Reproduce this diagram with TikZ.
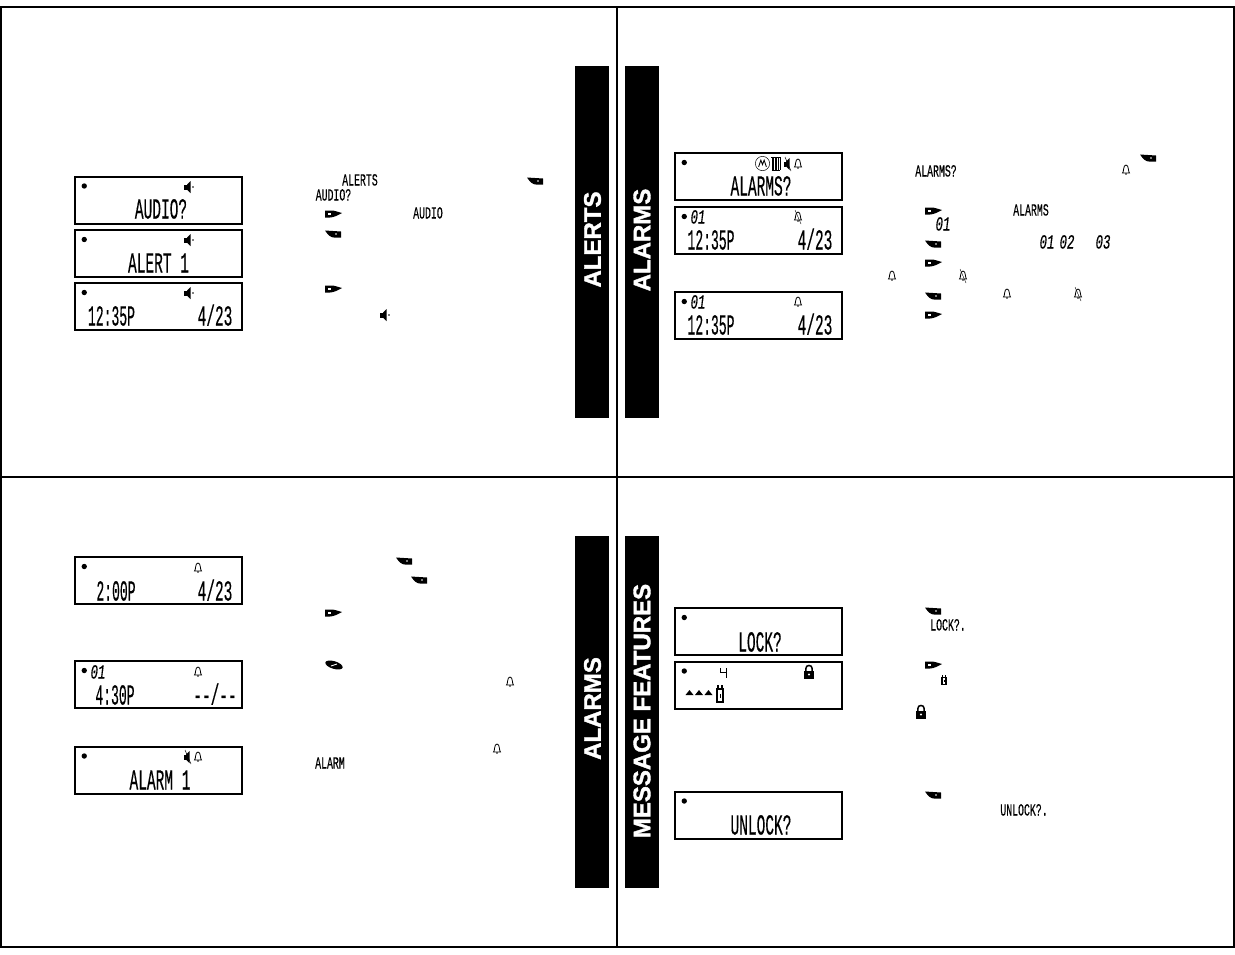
\documentclass[tikz,border=0pt]{standalone}
\usepackage{fontspec}
\newfontfamily\lcdfont[FakeBold=0.5]{Liberation Mono}
\newfontfamily\barfont[FakeBold=1.6]{Liberation Sans Bold}
\usepackage{tikz}
\tikzset{
  lcdbox/.style={draw=black, line width=2pt, minimum width=167.5pt, minimum height=47pt, inner sep=0pt},
  lcdbig/.style={font=\lcdfont\fontsize{29}{29}\selectfont, inner sep=0pt, text height=19pt, text depth=0pt, xscale=0.5, transform shape},
  lcdtime/.style={lcdbig, xscale=0.9},
  lcdsmall/.style={font=\lcdfont\fontsize{17}{17}\selectfont, inner sep=0pt, text height=11pt, text depth=0pt, xscale=0.58, transform shape},
  lcdnum/.style={font=\lcdfont\itshape\fontsize{20}{20}\selectfont, inner sep=0pt, text height=13pt, text depth=0pt, xscale=0.62, transform shape},
  tabbar/.style={fill=black, minimum width=34pt, minimum height=352pt, inner sep=0pt},
  tablabel/.style={font=\barfont\fontsize{24}{24}\selectfont, text=white, rotate=90, inner sep=0pt},
  % soft keys
  leftkey/.pic={
    \fill[black] (-8,-3.5) -- (8,-2.5) -- (8,3.5) -- (1,3.5) .. controls (-2,3.7) and (-5,1) .. (-8,-3.5);
    \fill[white] (3,0) circle (0.9);
  },
  rightkey/.pic={
    \fill[black] (-8,-3.5) -- (-2,-3.5) .. controls (2,-3.5) and (5,-2) .. (9,-1) .. controls (5,1) and (1,3.5) .. (-3,3.5) -- (-8,3.5) -- cycle;
    \fill[white] (-5,-0.7) rectangle (-2,0.7);
  },
  menukey/.pic={
    \fill[black, rotate=-17] (0,0) ellipse (9 and 3.8);
    \draw[white, line width=0.9pt] (-3,1) -- (3,-1);
  },
  % display icons
  speakericon/.pic={
    \fill[black] (-4,-2.5) rectangle (-1,2.5);
    \fill[black] (-1,-2.5) -- (2.5,-6) -- (2.5,6) -- (-1,2.5) -- cycle;
    \fill[black] (5,0) circle (0.9);
  },
  muteicon/.pic={
    \fill[black] (-4,-2.5) rectangle (-2,2.5);
    \fill[black] (-2,-2.5) -- (1.5,-6) -- (1.5,6) -- (-2,2.5) -- cycle;
    \draw[black, line width=0.5pt] (-3,-7) -- (3,7);
  },
  bellicon/.pic={
    \draw[black, line width=0.8pt] (-3.5,3) .. controls (-2,2) and (-3,-5) .. (0,-5) .. controls (3,-5) and (2,2) .. (3.5,3) -- cycle;
    \fill[black] (0,4) circle (0.9);
  },
  crossbell/.pic={
    \draw[black, line width=0.8pt] (-3.5,3) .. controls (-2,2) and (-3,-5) .. (0,-5) .. controls (3,-5) and (2,2) .. (3.5,3) -- cycle;
    \fill[black] (0,4) circle (0.9);
    \draw[black, line width=0.4pt] (-3,-7) -- (3,7);
  },
  lockicon/.pic={
    \draw[black, line width=1.5pt] (-3.2,-1) -- (-3.2,-3.4) .. controls (-3.2,-7.6) and (3.2,-7.6) .. (3.2,-3.4) -- (3.2,-1);
    \fill[black] (-5,-1) rectangle (5,6.5);
    \fill[white] (0,2.5) circle (1.1);
  },
  batteryicon/.pic={
    \draw[black, line width=1.5pt] (-3.2,-5) rectangle (3.2,8);
    \fill[black] (-3,-9) rectangle (-1,-5);
    \fill[black] (1,-9) rectangle (3,-5);
    \fill[black] (-0.5,0) rectangle (0.5,4);
  },
  motoicon/.pic={
    \draw[black, line width=0.5pt] (0,0) circle (6.5);
    \draw[black, line width=0.9pt] (-3.5,3) -- (-1.5,-3) -- (0,1) -- (1.5,-3) -- (3.5,3);
  },
  trashicon/.pic={
    \fill[black] (-5,-7) rectangle (5,-5.6);
    \foreach \x in {-4,-2.4,-0.8,0.8,2.4,4}
      \draw[black, line width=0.8pt] (\x,-5.6) -- (\x,6.5);
    \draw[black, line width=0.8pt] (-4.2,6.5) -- (4.2,6.5);
  },
  antennaicon/.pic={
    \draw[black, line width=0.9pt] (-3,-5) -- (-3,-1) -- (3,-1);
    \draw[black, line width=0.9pt] (3,-5) -- (3,5);
  },
  signalicon/.pic={
    \fill[black] (-4,2.5) -- (0,-2.5) -- (4,2.5) -- cycle;
  }
}
\begin{document}
\begin{tikzpicture}[x=1pt, y=-1pt]
\useasboundingbox (0,0) rectangle (1235,954);
% draws page frames
\draw[line width=1.8pt] (1,7) rectangle (1234,947);
\draw[line width=1.8pt] (1,477) -- (1234,477);
\draw[line width=1.8pt] (617,7) -- (617,947);
% draws side tabs
\node[tabbar] (tabalerts) at (592,242) {};
\node[tabbar] (tabalarms) at (642,242) {};
\node[tabbar] (tabalarmstwo) at (592,712) {};
\node[tabbar] (tabmessage) at (642,712) {};
\node[tablabel] (labelalerts) at (592.5,239.5) {ALERTS};
\node[tablabel] (labelalarms) at (642,240) {ALARMS};
\node[tablabel] (labelalarmstwo) at (592.5,708.5) {ALARMS};
\node[tablabel] (labelmessage) at (642,711) {MESSAGE FEATURES};
% draws displays
\node[lcdbox] (audiobox) at (158.5,200) {};
\node[lcdbox] (alertbox) at (158.5,253.5) {};
\node[lcdbox] (timebox) at (158.5,306.5) {};
\node[lcdbox] (alarmsbox) at (758.5,176.5) {};
\node[lcdbox] (alarmoff) at (758.5,230.5) {};
\node[lcdbox] (alarmon) at (758.5,315.5) {};
\node[lcdbox] (clockbox) at (158.5,580.5) {};
\node[lcdbox] (setbox) at (158.5,684.5) {};
\node[lcdbox] (ringbox) at (158.5,770) {};
\node[lcdbox] (lockbox) at (758.5,631.5) {};
\node[lcdbox] (lockedbox) at (758.5,685) {};
\node[lcdbox] (unlockbox) at (758.5,815) {};
% draws status dots
\foreach \n in {audiobox,alertbox,timebox,alarmsbox,alarmoff,alarmon,clockbox,setbox,ringbox,lockbox,lockedbox,unlockbox}
  \fill[black] ([shift={(10.5,10.5)}]\n.north west) circle (2.7);
% labels displays
\node[lcdbig] (audiotext) at (161,209) {AUDIO?};
\node[lcdbig] (alerttext) at (158.5,263) {ALERT 1};
\node[lcdtime] (timeleft) at (111.5,316) {12:35P};
\node[lcdbig] (dateleft) at (215,316) {4/23};
\node[lcdbig] (alarmstext) at (761,186) {ALARMS?};
\node[lcdnum] (numoff) at (698,217) {01};
\node[lcdtime] (timeoff) at (711,240) {12:35P};
\node[lcdbig] (dateoff) at (815,240) {4/23};
\node[lcdnum] (numon) at (698,302) {01};
\node[lcdtime] (timeon) at (711,325) {12:35P};
\node[lcdbig] (dateon) at (815,325) {4/23};
\node[lcdtime] (clocktime) at (116,591) {2:00P};
\node[lcdbig] (clockdate) at (215,591) {4/23};
\node[lcdnum] (setnum) at (98,672) {01};
\node[lcdtime] (settime) at (115,695) {4:30P};
\node[lcdbig] (setdate) at (215,695) {--/--};
\node[lcdbig] (ringtext) at (160,780) {ALARM 1};
\node[lcdbig] (locktext) at (760,642) {LOCK?};
\node[lcdbig] (unlocktext) at (761,825) {UNLOCK?};
% labels instructions
\node[lcdsmall] (stepalerts) at (360,180) {ALERTS};
\node[lcdsmall] (stepaudioq) at (333.5,195) {AUDIO?};
\node[lcdsmall] (stepaudio) at (428,213) {AUDIO};
\node[lcdsmall] (stepalarmsq) at (936,171) {ALARMS?};
\node[lcdsmall] (stepalarms) at (1031,210) {ALARMS};
\node[lcdnum] (stepnum) at (943,224) {01};
\node[lcdnum] (stepnumone) at (1047,242) {01};
\node[lcdnum] (stepnumtwo) at (1067,242) {02};
\node[lcdnum] (stepnumthree) at (1103,242) {03};
\node[lcdsmall] (stepalarm) at (330,763) {ALARM};
\node[lcdsmall] (steplock) at (948,625) {LOCK?.};
\node[lcdsmall] (stepunlock) at (1024,810) {UNLOCK?.};
% draws display icons
\pic at (188,187) {speakericon};
\pic at (188,240) {speakericon};
\pic at (188,293) {speakericon};
\pic[scale=1.1] at (762.5,163.5) {motoicon};
\pic at (776,163.5) {trashicon};
\pic at (788,164) {muteicon};
\pic at (798,164) {bellicon};
\pic at (798,217) {crossbell};
\pic at (798,302) {bellicon};
\pic at (198,568) {bellicon};
\pic at (198,672) {bellicon};
\pic at (188,757) {muteicon};
\pic at (198,757) {bellicon};
\pic at (723,673) {antennaicon};
\pic at (809,672) {lockicon};
\pic at (689.5,692.5) {signalicon};
\pic at (699,692.5) {signalicon};
\pic at (708.5,692.5) {signalicon};
\pic at (720,694) {batteryicon};
% draws instruction icons
\pic at (384,315) {speakericon};
\pic at (1126,170) {bellicon};
\pic at (892,276) {bellicon};
\pic at (963,276) {crossbell};
\pic at (1007,294) {bellicon};
\pic at (1078,294) {crossbell};
\pic at (510,682) {bellicon};
\pic at (497,749) {bellicon};
\pic[scale=0.55] at (944,680) {batteryicon};
\pic at (921,712) {lockicon};
% draws soft keys
\pic at (535,181) {leftkey};
\pic at (333,234) {leftkey};
\pic at (333,214) {rightkey};
\pic at (333,289) {rightkey};
\pic at (1148,158) {leftkey};
\pic at (933,244) {leftkey};
\pic at (933,296) {leftkey};
\pic at (933,211) {rightkey};
\pic at (933,263) {rightkey};
\pic at (933,315) {rightkey};
\pic at (404,561) {leftkey};
\pic at (419,580) {leftkey};
\pic at (333,613) {rightkey};
\pic at (334,665) {menukey};
\pic at (933,611) {leftkey};
\pic at (933,665) {rightkey};
\pic at (933,795) {leftkey};
\end{tikzpicture}
\end{document}
